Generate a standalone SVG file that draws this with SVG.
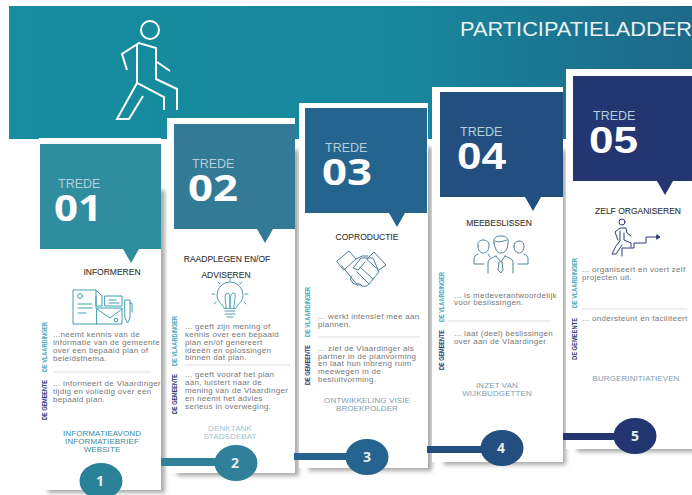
<svg xmlns="http://www.w3.org/2000/svg" width="692" height="495" viewBox="0 0 692 495">
<style>
text{font-family:"Liberation Sans",Arial,sans-serif}
.tr{font-size:12.5px;fill:#b4cfdb}
.num{font-family:"Open Sans","DejaVu Sans",sans-serif;font-weight:700;font-size:36px;fill:#fff}
.numb{font-weight:700;font-size:37px;fill:#fff}
.h{font-size:8.5px;fill:#333;text-anchor:middle;stroke:#333;stroke-width:.1}
.b{font-size:8px;fill:#777;letter-spacing:.3px}
.f{font-size:8px;text-anchor:middle;letter-spacing:.1px}
.v{font-size:6.500px;font-weight:700;fill:#46a9b8}
.g{font-size:6.500px;font-weight:700;fill:#2c3b78}
.d{stroke:#ddd;stroke-width:1}
.c{fill:#fff}
.s{fill:#aaa;filter:url(#bl)}
.n{font-size:14px;font-weight:700;fill:#e4eef2;text-anchor:middle;font-family:"Open Sans",sans-serif}
.i{fill:none;stroke-width:1;stroke-linejoin:round;stroke-linecap:round}
</style>
<defs>
<linearGradient id="bg" x1="0" y1="0" x2="1" y2="0"><stop offset="0" stop-color="#178d9f"/><stop offset=".55" stop-color="#17889d"/><stop offset="1" stop-color="#1e6888"/></linearGradient>
<filter id="bl" x="-20%" y="-10%" width="140%" height="120%"><feGaussianBlur stdDeviation="2"/></filter>
</defs>
<rect width="692" height="495" fill="#fff"/>
<g id="banner">
<rect x="9" y="6" width="683" height="133" fill="url(#bg)"/>
<text x="460" y="36" font-size="19.500" fill="#e8f2f5" textLength="232" lengthAdjust="spacingAndGlyphs">PARTICIPATIELADDER</text>
<g fill="none" stroke="#fff" stroke-width="2">
<circle cx="150" cy="30" r="9"/>
<path d="M127 70L122 54L139 43L156 48V79L177 89V110M157 62L170 71M137 45V83L164 97V110M137 83L117 119H129L143 96"/>
</g>
</g>
<g id="trede1">
<rect class="s" x="48" y="190" width="117" height="303"/>
<rect class="c" x="39" y="138" width="122" height="352"/>
<path d="M40 144H161V249H139L131 263L123 249H40Z" fill="#2f8d9f"/>
<text class="tr" x="58" y="188">TREDE</text><text class="num" x="54" y="221" textLength="48" lengthAdjust="spacingAndGlyphs">01</text>
<text class="h" x="112" y="275">INFORMEREN</text>
<g class="i" stroke="#3f9fae">
<path d="M96 308V290H73V324H97M96 290L102 296V306H96V296M78 304H92M78 308H92M78 313H86"/><circle cx="80" cy="296" r="2.400"/>
<rect x="105" y="296" width="17" height="10"/><path d="M109 300H116M109 303H119"/>
<rect x="97" y="308" width="25" height="16"/><path d="M97 309L110 318L122 309"/><circle cx="116" cy="320" r="1.800"/>
<path d="M125 300H130V318L127.500 323L125 318ZM130 303H132V312"/>
</g>
<text class="v" transform="translate(46.500 372) rotate(-90)" textLength="50" lengthAdjust="spacingAndGlyphs">DE VLAARDINGER</text>
<text class="g" transform="translate(46.500 420) rotate(-90)" textLength="40" lengthAdjust="spacingAndGlyphs">DE GEMEENTE</text>
<text class="b" x="53" y="336.500">...neemt kennis van de</text><text class="b" x="53" y="344.500">informatie van de gemeente</text><text class="b" x="53" y="352.500">over een bepaald plan of</text><text class="b" x="53" y="360.500">beleidsthema.</text>
<line class="d" x1="53" y1="372" x2="151" y2="372"/>
<text class="b" x="53" y="385.500">... informeert de Vlaardinger</text><text class="b" x="53" y="393.500">tijdig en volledig over een</text><text class="b" x="53" y="401.500">bepaald plan.</text>
<text class="f" x="102" y="436" fill="#3b8b9c">INFORMATIEAVOND</text><text class="f" x="102" y="444" fill="#3b8b9c">INFORMATIEBRIEF</text><text class="f" x="102" y="452" fill="#3b8b9c">WEBSITE</text>
</g>
<g id="trede2">
<rect class="s" x="177" y="150" width="122" height="326"/>
<rect class="c" x="167" y="118" width="128" height="355"/>
<path d="M174 124H295V229H273L265 243L257 229H174Z" fill="#327a96"/>
<text class="tr" x="192" y="168">TREDE</text><text class="num" x="188" y="201" textLength="50" lengthAdjust="spacingAndGlyphs">02</text>
<text class="h" x="227" y="262">RAADPLEGEN EN/OF</text><text class="h" x="226" y="278">ADVISEREN</text>
<g class="i" stroke="#4fa0b0">
<path d="M224 308C222 303 217 302 217 295A13 13 0 0 1 243 295C243 302 238 303 236 308ZM225 311H235M225 314H235M227 317H233M226 308C226 300 224 297 226 294C229 291 231 295 230 308C229 295 232 291 235 294C236 297 234 300 234 308"/>
<path d="M230 278V281M218 282L220 284M242 282L240 284M212 294H215M245 294H248M214 304L216 302M246 304L244 302"/>
</g>
<text class="v" transform="translate(176.500 366) rotate(-90)" textLength="50" lengthAdjust="spacingAndGlyphs">DE VLAARDINGER</text>
<text class="g" transform="translate(176.500 414) rotate(-90)" textLength="40" lengthAdjust="spacingAndGlyphs">DE GEMEENTE</text>
<text class="b" x="185" y="329">... geeft zijn mening of</text><text class="b" x="185" y="337">kennis over een bepaald</text><text class="b" x="185" y="344.500">plan en/of genereert</text><text class="b" x="185" y="352.500">ideeën en oplossingen</text><text class="b" x="185" y="360">binnen dat  plan.</text>
<line class="d" x1="185" y1="365" x2="290" y2="365"/>
<text class="b" x="185" y="377">... geeft vooraf het plan</text><text class="b" x="185" y="385">aan, luistert naar de</text><text class="b" x="185" y="393">mening van de Vlaardinger</text><text class="b" x="185" y="400.500">en neemt het advies</text><text class="b" x="185" y="408.500">serieus in overweging.</text>
<text class="f" x="230" y="431" fill="#9cc4cd">DENKTANK</text><text class="f" x="230" y="439" fill="#9cc4cd">STADSDEBAT</text>
</g>
<g id="trede3">
<rect class="s" x="309" y="147" width="123" height="324"/>
<rect class="c" x="299" y="103" width="129" height="365"/>
<path d="M305 108H427V213H405L397 227L389 213H305Z" fill="#24648e"/>
<text class="tr" x="325" y="152">TREDE</text><text class="num" x="322" y="185" textLength="50" lengthAdjust="spacingAndGlyphs">03</text>
<text class="h" x="367" y="240">COPRODUCTIE</text>
<g class="i" stroke="#4d7f9c">
<path d="M337 261L349 251L356 259L344 270ZM367 259L374 252L386 265L379 270ZM342 266L354 281C356 285 360 283 361 285C365 288 368 285 369 284L379 272L373 258H361L353 268L358 270L365 262M360 267L373 279M357 272L369 284M352 276L350 279L353 283L357 285L361 285M356 259L362 256H368"/>
</g>
<text class="v" transform="translate(309.500 337) rotate(-90)" textLength="50" lengthAdjust="spacingAndGlyphs">DE VLAARDINGER</text>
<text class="g" transform="translate(309.500 385) rotate(-90)" textLength="40" lengthAdjust="spacingAndGlyphs">DE GEMEENTE</text>
<text class="b" x="318" y="318.500">... werkt intensief mee aan</text><text class="b" x="318" y="326.500">plannen.</text>
<line class="d" x1="318" y1="337" x2="420" y2="337"/>
<text class="b" x="318" y="350.500">... ziet de Vlaardinger als</text><text class="b" x="318" y="358.500">partner in de planvorming</text><text class="b" x="318" y="366">en laat hun inbreng ruim</text><text class="b" x="318" y="373.500">meewegen in de</text><text class="b" x="318" y="381.500">besluitvorming.</text>
<text class="f" x="367" y="403" fill="#7d9db3">ONTWIKKELING VISIE</text><text class="f" x="367" y="411" fill="#7d9db3">BROEKPOLDER</text>
</g>
<g id="trede4">
<rect class="s" x="444" y="150" width="122" height="315"/>
<rect class="c" x="432" y="87" width="131" height="375"/>
<path d="M440 92H563V197H541L533 211L525 197H440Z" fill="#234f80"/>
<text class="tr" x="460" y="136">TREDE</text><text class="numb" x="457" y="169" textLength="49" lengthAdjust="spacingAndGlyphs">04</text>
<text class="h" x="499" y="226">MEEBESLISSEN</text>
<g class="i" stroke="#4f8099">
<path d="M494 243C493 237 497 236 501 236C506 236 509 238 508 243C508 249 505 253 501 253C497 253 495 249 494 243ZM495 241C499 243 503 241 507 240M488 273V263C488 258 493 258 496 256M513 273V263C513 258 508 258 505 256M496 256L501 262L505 256M499 262L498 270L501 273L503 270L502 262"/>
<path d="M478 246C477 242 480 240 483 240C487 240 489 242 489 245C489 250 487 253 483 253C480 253 478 250 478 246ZM478 254C475 255 474 257 474 259V264H484M488 254L490 257"/>
<path d="M514 246C514 243 516 241 519 241C522 241 524 243 524 246C524 250 522 253 519 253C516 253 514 250 514 246ZM524 254C527 255 528 257 528 259V264H518"/>
</g>
<text class="v" transform="translate(443.500 322) rotate(-90)" textLength="50" lengthAdjust="spacingAndGlyphs">DE VLAARDINGER</text>
<text class="g" transform="translate(443.500 370) rotate(-90)" textLength="40" lengthAdjust="spacingAndGlyphs">DE GEMEENTE</text>
<text class="b" x="454" y="297.500">... is medeverantwoordelijk</text><text class="b" x="454" y="305">voor beslissingen.</text>
<line class="d" x1="448" y1="321" x2="551" y2="321"/>
<text class="b" x="454" y="336">... laat (deel) beslissingen</text><text class="b" x="454" y="344">over aan de Vlaardinger</text>
<text class="f" x="497" y="388" fill="#7d9db3">INZET VAN</text><text class="f" x="497" y="396" fill="#7d9db3">WIJKBUDGETTEN</text>
</g>
<g id="trede5">
<rect class="s" x="577" y="150" width="120" height="302"/>
<rect class="c" x="566" y="69" width="126" height="380"/>
<path d="M573 76H692V181H673L665 195L657 181H573Z" fill="#233672"/>
<text class="tr" x="593" y="120">TREDE</text><text class="numb" x="589" y="153" textLength="49" lengthAdjust="spacingAndGlyphs">05</text>
<text class="h" x="638" y="214">ZELF ORGANISEREN</text>
<g class="i" stroke="#2c3b78">
<circle cx="622" cy="222" r="3"/>
<path d="M618 240L615 232L620 228H626L627 233L631 236M624 233V240L631 243V247M620 231V241L616 246L612 254H616L622 245"/>
<path d="M622 256V248H634V243H646V237H657"/><path d="M657 235L660 237L657 239Z" fill="#2c3b78"/>
</g>
<text class="v" transform="translate(576.500 308) rotate(-90)" textLength="50" lengthAdjust="spacingAndGlyphs">DE VLAARDINGER</text>
<text class="g" transform="translate(576.500 360) rotate(-90)" textLength="42" lengthAdjust="spacingAndGlyphs">DE GEMEENTE</text>
<text class="b" x="582" y="272">... organiseert en voert zelf</text><text class="b" x="582" y="280">projecten uit.</text>
<line class="d" x1="582" y1="309" x2="687" y2="309"/>
<text class="b" x="582" y="321">... ondersteunt en faciliteert</text>
<text class="f" x="636" y="381" fill="#7d9db3">BURGERINITIATIEVEN</text>
</g>
<g id="connectors">
<rect x="161" y="458" width="60" height="8" fill="#2f8098"/>
<rect x="294" y="453" width="53" height="7" fill="#24648e"/>
<rect x="427" y="446" width="55" height="7" fill="#234f80"/>
<rect x="563" y="433" width="51" height="7" fill="#233672"/>
</g>
<g id="step1"><ellipse cx="101" cy="481" rx="21.500" ry="18" fill="#2a8298"/><text class="n" x="100" y="486">1</text></g>
<g id="step2"><ellipse cx="236" cy="463" rx="21.500" ry="18" fill="#2f8098"/><text class="n" x="235" y="468">2</text></g>
<g id="step3"><ellipse cx="367" cy="457" rx="21.500" ry="18" fill="#24648e"/><text class="n" x="367" y="462">3</text></g>
<g id="step4"><ellipse cx="502" cy="448" rx="21.500" ry="18" fill="#234f80"/><text class="n" x="501" y="453">4</text></g>
<g id="step5"><ellipse cx="635" cy="436" rx="21.500" ry="18" fill="#233672"/><text class="n" x="635" y="441">5</text></g>
</svg>
